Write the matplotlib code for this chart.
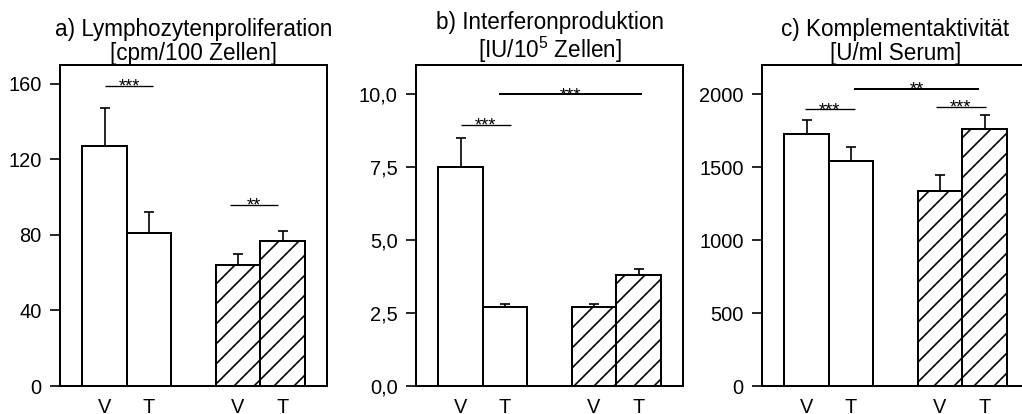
import matplotlib
matplotlib.use("Agg")
import matplotlib.pyplot as plt
import numpy as np

plt.rcParams['font.family'] = ['Liberation Sans', 'DejaVu Sans']
plt.rcParams['mathtext.fontset'] = 'custom'
plt.rcParams['mathtext.rm'] = 'Liberation Sans'
plt.rcParams['mathtext.it'] = 'Liberation Sans:italic'
plt.rcParams['hatch.linewidth'] = 1.0

# bar positions / labels
groups = ["V", "T", "V", "T"]
pos = [1, 2, 4, 5]
hatches = ["", "", "//", "//"]

titles = [
    "a) Lymphozytenproliferation\n[cpm/100 Zellen]",
    "b) Interferonproduktion\n[IU/10$^5$ Zellen]",
    "c) Komplementaktivität\n[U/ml Serum]",
]

# a) lymphocyte proliferation
lympho_mean = [127, 81, 64, 77]
lympho_err = [20, 11, 6, 5]
# b) interferon production
ifn_mean = [7.5, 2.7, 2.7, 3.8]
ifn_err = [1.0, 0.1, 0.1, 0.2]
# c) complement activity
kompl_mean = [1725, 1545, 1337, 1760]
kompl_err = [100, 92, 112, 94]

ylims = [170, 11, 2200]
yticks = [[0, 40, 80, 120, 160],
          [0, 2.5, 5, 7.5, 10],
          [0, 500, 1000, 1500, 2000]]
ytick_labels = [["0", "40", "80", "120", "160"],
                ["0,0", "2,5", "5,0", "7,5", "10,0"],
                ["0", "500", "1000", "1500", "2000"]]

# significance bars: (x start, x end, y, stars, linewidth)
sig_a = [(1.0, 2.1, 159, "***", 0.8), (3.82, 4.9, 96, "**", 0.8)]
sig_b = [(1.0, 2.13, 8.95, "***", 0.8), (1.87, 5.07, 10.0, "***", 1.2)]
sig_c = [(0.97, 2.08, 1897, "***", 0.8), (2.07, 4.87, 2036, "**", 1.2),
         (3.9, 5.03, 1915, "***", 0.8)]

means = [lympho_mean, ifn_mean, kompl_mean]
errs = [lympho_err, ifn_err, kompl_err]
sigs = [sig_a, sig_b, sig_c]

W, H, DPI = 1022, 414, 120
fig = plt.figure(figsize=(W / DPI, H / DPI), dpi=DPI)

lefts = [60, 416, 762]
ax_w = 267
top, bottom = 65, 386

for i in range(3):
    ax = fig.add_axes([lefts[i] / W, (H - bottom) / H, ax_w / W, (bottom - top) / H])
    ax.errorbar(pos, means[i], yerr=[np.zeros(4), errs[i]], fmt='none',
                ecolor='black', elinewidth=1.0, capsize=3, capthick=1.0, zorder=1)
    for x, m, h in zip(pos, means[i], hatches):
        ax.bar(x, m, width=1.0, color='white', edgecolor='black',
               linewidth=1.2, hatch=h, zorder=2)
    for x0, x1, y, s, lw in sigs[i]:
        ax.plot([x0, x1], [y, y], color='black', lw=lw, solid_capstyle='butt')
        ax.annotate(s, ((x0 + x1) / 2, y), xytext=(0, -3.5), textcoords='offset points',
                    ha='center', va='baseline', fontsize=11)
    ax.set_xlim(0, 6)
    ax.set_ylim(0, ylims[i])
    ax.set_yticks(yticks[i])
    ax.set_yticklabels(ytick_labels[i])
    ax.set_xticks(pos)
    ax.set_xticklabels(groups)
    ax.tick_params(axis='x', length=0, pad=7, labelsize=12)
    ax.tick_params(axis='y', length=6, width=1.0, pad=5, labelsize=12)
    for sp in ax.spines.values():
        sp.set_linewidth(1.2)
    ax.set_title(titles[i], fontsize=13.5, linespacing=1.05, pad=3)

fig.savefig("out.png", dpi=DPI)
